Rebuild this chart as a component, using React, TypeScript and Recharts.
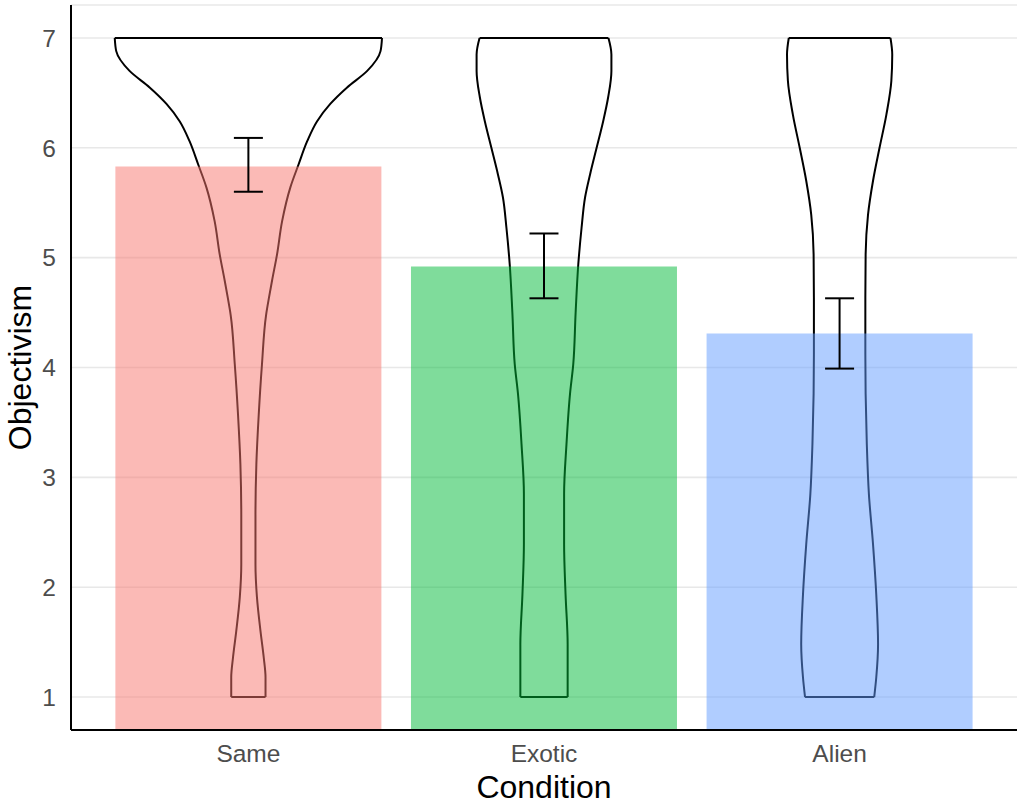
import React from "react";
import {
  Bar,
  CartesianGrid,
  Cell,
  ComposedChart,
  ErrorBar,
  Label,
  Line,
  XAxis,
  YAxis,
} from "recharts";

// bar means and 95% CI per condition
const conditions = ["Same", "Exotic", "Alien"];
const means = [5.83, 4.92, 4.31];
const ciLower = [5.6, 4.63, 3.99];
const ciUpper = [6.09, 5.22, 4.63];
const yTicks = [1, 2, 3, 4, 5, 6, 7];

// violin outlines: y level + half width (category units)
const sameLevels = [1.0, 1.18, 1.36, 1.6, 1.91, 2.21, 2.66, 3.12, 3.57, 4.03, 4.48, 4.64, 4.79, 5.03, 5.33, 5.64, 5.85, 6.06, 6.24, 6.4, 6.55, 6.7, 6.88, 7.0];
const sameHalfWidth = [0.058, 0.058, 0.052, 0.041, 0.029, 0.024, 0.024, 0.027, 0.035, 0.046, 0.06, 0.07, 0.08, 0.097, 0.114, 0.142, 0.17, 0.199, 0.232, 0.277, 0.334, 0.402, 0.447, 0.452];

const exoticLevels = [1.0, 1.48, 1.93, 2.39, 2.85, 3.3, 3.76, 4.03, 4.5, 4.94, 5.27, 5.55, 5.76, 6.0, 6.24, 6.46, 6.7, 6.85, 7.0];
const exoticHalfWidth = [0.08, 0.08, 0.073, 0.068, 0.068, 0.076, 0.088, 0.099, 0.107, 0.116, 0.127, 0.139, 0.156, 0.178, 0.2, 0.217, 0.228, 0.228, 0.218];

const alienLevels = [1.0, 1.18, 1.48, 1.93, 2.39, 2.85, 3.3, 3.76, 4.12, 4.64, 5.03, 5.39, 5.7, 6.0, 6.3, 6.61, 6.85, 7.0];
const alienHalfWidth = [0.117, 0.124, 0.13, 0.124, 0.113, 0.099, 0.092, 0.088, 0.087, 0.087, 0.088, 0.096, 0.113, 0.135, 0.158, 0.175, 0.178, 0.172];

const BAR_COLORS = ["#F8766D", "#00BA38", "#619CFF"];
const FONT = "'Liberation Sans', Arial, sans-serif";

const barData = conditions.map((c, i) => ({
  condition: c,
  mean: means[i],
  err: [means[i] - ciLower[i], ciUpper[i] - means[i]],
}));

const violins = [
  { levels: sameLevels, half: sameHalfWidth },
  { levels: exoticLevels, half: exoticHalfWidth },
  { levels: alienLevels, half: alienHalfWidth },
];

// each violin = left side, right side, top edge, bottom edge
const violinLines = violins.flatMap((v, i) => {
  const c = i + 1;
  const last = v.levels.length - 1;
  return [
    { id: `l${i}`, curve: "monotoneY", pts: v.levels.map((y, k) => ({ x: c - v.half[k], y })) },
    { id: `r${i}`, curve: "monotoneY", pts: v.levels.map((y, k) => ({ x: c + v.half[k], y })) },
    { id: `t${i}`, curve: "linear", pts: [{ x: c - v.half[last], y: v.levels[last] }, { x: c + v.half[last], y: v.levels[last] }] },
    { id: `b${i}`, curve: "linear", pts: [{ x: c - v.half[0], y: v.levels[0] }, { x: c + v.half[0], y: v.levels[0] }] },
  ];
});

export default function App() {
  return (
    <div style={{ position: "absolute", left: 0, top: 0, background: "#fff" }}>
      <ComposedChart
        width={1021}
        height={806}
        data={barData}
        margin={{ top: 5, right: 4, bottom: 0, left: 0 }}
        barCategoryGap="5%"
      >
        <CartesianGrid vertical={false} stroke="#e8e8e8" strokeWidth={1.6} />
        <XAxis
          dataKey="condition"
          height={76}
          padding={{ left: 29.6, right: 29.6 }}
          tickLine={false}
          tickSize={0}
          tickMargin={15}
          axisLine={{ stroke: "#000", strokeWidth: 2 }}
          tick={{ fontSize: 24.5, fill: "#4d4d4d", fontFamily: FONT }}
        >
          <Label
            content={({ viewBox }: any) => (
              <text
                x={viewBox.x + viewBox.width / 2}
                y={viewBox.y + 68}
                textAnchor="middle"
                fontSize={32}
                fontFamily={FONT}
                fill="#000"
              >
                Condition
              </text>
            )}
          />
        </XAxis>
        <XAxis xAxisId="num" dataKey="x" type="number" domain={[0.4, 3.6]} allowDataOverflow hide />
        <YAxis
          domain={[0.7, 7.3]}
          ticks={yTicks}
          allowDataOverflow
          width={71}
          tickLine={false}
          tickSize={0}
          tickMargin={15}
          axisLine={{ stroke: "#000", strokeWidth: 2 }}
          tick={{ fontSize: 24.5, fill: "#4d4d4d", fontFamily: FONT }}
        >
          <Label
            content={({ viewBox }: any) => {
              const cx = viewBox.x + 20;
              const cy = viewBox.y + viewBox.height / 2;
              return (
                <text
                  x={cx}
                  y={cy}
                  transform={`rotate(-90, ${cx}, ${cy})`}
                  textAnchor="middle"
                  dominantBaseline="central"
                  fontSize={32}
                  fontFamily={FONT}
                  fill="#000"
                >
                  Objectivism
                </text>
              );
            }}
          />
        </YAxis>
        {violinLines.map((v) => (
          <Line
            key={v.id}
            xAxisId="num"
            data={v.pts}
            dataKey="y"
            type={v.curve as any}
            stroke="#000"
            strokeWidth={2}
            dot={false}
            activeDot={false}
            legendType="none"
            isAnimationActive={false}
            zIndex={250}
          />
        ))}
        <Bar dataKey="mean" isAnimationActive={false}>
          {barData.map((d, i) => (
            <Cell key={d.condition} fill={BAR_COLORS[i]} fillOpacity={0.5} />
          ))}
          <ErrorBar dataKey="err" direction="y" width={14.5} stroke="#000" strokeWidth={2} />
        </Bar>
      </ComposedChart>
    </div>
  );
}
